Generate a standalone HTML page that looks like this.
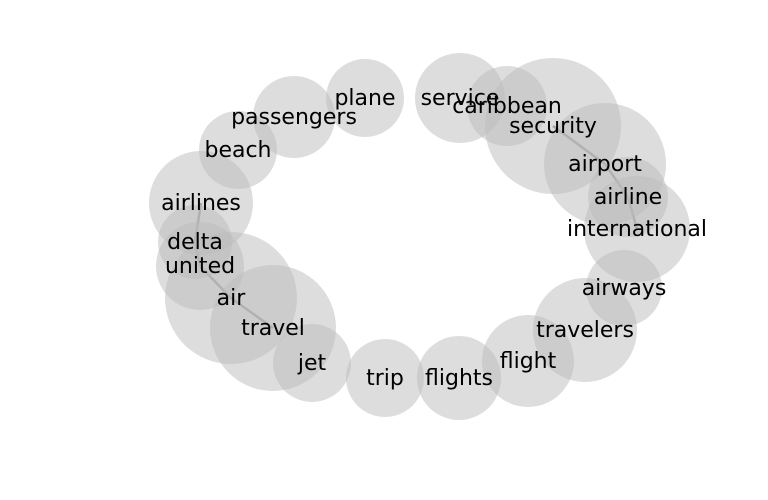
<!DOCTYPE html>
<html><head><meta charset="utf-8"><style>
html,body{margin:0;padding:0;background:#fff;}
svg{display:block;}
text{font-family:"DejaVu Sans","Liberation Sans",sans-serif;font-size:22px;fill:#000;}
</style></head><body>
<svg id="chart" width="768" height="500"></svg>
<script>
const words = ["plane","passengers","beach","airlines","delta","united","air","travel","jet","trip","flights","flight","travelers","airways","international","airline","airport","security","caribbean","service"];
const xs = [365,294,238,201,195,200,231,273,312,385,459,528,585,624,637,628,605,553,507,460];
const ys = [98,117,150,203,242,266,298,328,363,378,378,361,330,288,229,197,164,126,106,98];
const sizes = [39,41,39,52,37,44,66,63,39,39,42,46,52,38,53,40,61,68,40,45];
const edges = [["airlines","delta"],["delta","united"],["united","air"],["air","travel"],["security","airport"],["airport","airline"],["airline","international"]];
const NS="http://www.w3.org/2000/svg";
const svg=document.getElementById('chart');
const idx=w=>words.indexOf(w);
edges.forEach(e=>{
  const a=idx(e[0]),b=idx(e[1]);
  const l=document.createElementNS(NS,'line');
  l.setAttribute('x1',xs[a]);l.setAttribute('y1',ys[a]);
  l.setAttribute('x2',xs[b]);l.setAttribute('y2',ys[b]);
  l.setAttribute('stroke','#777777');l.setAttribute('stroke-width','2.5');l.setAttribute('stroke-opacity','0.8');
  
  
  svg.appendChild(l);
});
words.forEach((w,i)=>{
  const c=document.createElementNS(NS,'circle');
  c.setAttribute('cx',xs[i]);c.setAttribute('cy',ys[i]);c.setAttribute('r',sizes[i]);
  c.setAttribute('fill','#bbbbbb');c.setAttribute('fill-opacity','0.5');
  
  
  svg.appendChild(c);
});
words.forEach((w,i)=>{
  const t=document.createElementNS(NS,'text');
  t.setAttribute('x',xs[i]);t.setAttribute('y',ys[i]+7);
  t.setAttribute('text-anchor','middle');
  t.textContent=w;
  
  
  svg.appendChild(t);
});
</script>
</body></html>
